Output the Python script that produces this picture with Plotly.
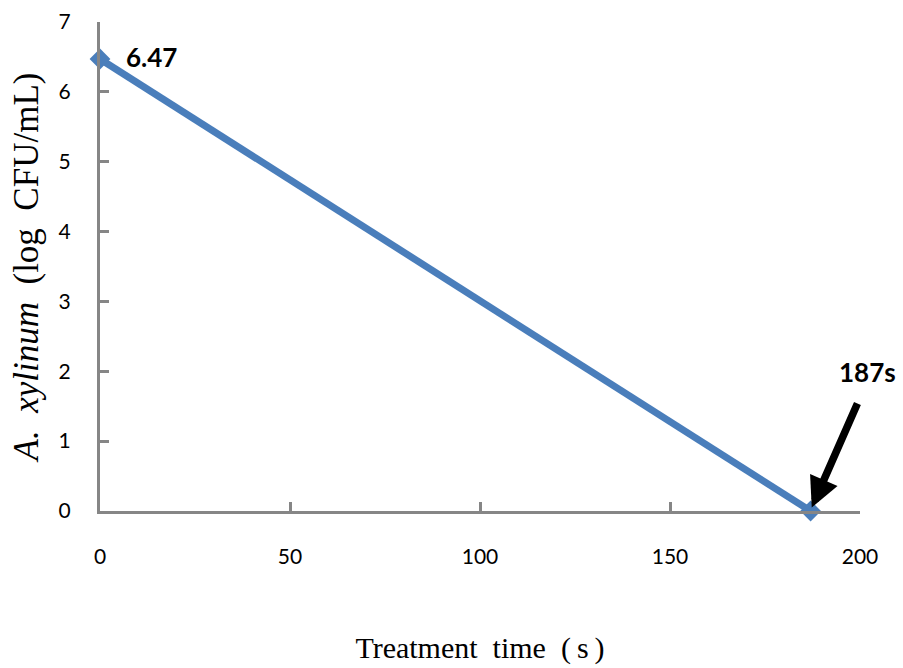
import plotly.graph_objects as go

# Survival curve of A. xylinum under treatment
time_s = [0, 187]
log_cfu = [6.47, 0]
x_ticks = [0, 50, 100, 150, 200]
y_ticks = [0, 1, 2, 3, 4, 5, 6, 7]

axis_grey = "#868686"
line_blue = "#4a7ebb"

fig = go.Figure()
fig.add_trace(go.Scatter(
    x=time_s, y=log_cfu, mode="lines+markers",
    line=dict(color=line_blue, width=7),
    marker=dict(symbol="diamond", size=16, color=line_blue),
    cliponaxis=False, showlegend=False,
))

# value labels
fig.add_annotation(x=time_s[0], y=log_cfu[0], text="<b>%.2f</b>" % log_cfu[0],
                   showarrow=False, xanchor="left", xshift=24, yshift=2,
                   font=dict(family="Lato", size=26, color="black"))
fig.add_annotation(x=time_s[1], y=log_cfu[1], text="<b>%ds</b>" % time_s[1],
                   showarrow=False, xshift=57, yshift=139,
                   font=dict(family="Lato", size=26, color="black"))
# arrow pointing to the end point
fig.add_annotation(x=time_s[1] + 0.3, y=log_cfu[1] + 0.05, ax=199.5, ay=1.56,
                   axref="x", ayref="y", xref="x", yref="y",
                   text="", showarrow=True, arrowhead=2, arrowsize=0.8,
                   arrowwidth=7.5, arrowcolor="black")

fig.update_layout(
    width=903, height=668,
    margin=dict(l=100, r=43, t=22, b=157),
    paper_bgcolor="white", plot_bgcolor="white",
    font=dict(family="Lato", size=21, color="black"),
)
fig.update_xaxes(
    range=[0, 200], tickvals=x_ticks, showgrid=False, zeroline=False,
    showline=True, linecolor=axis_grey, linewidth=3, automargin=False,
    ticks="inside", ticklen=9, tickwidth=3, tickcolor=axis_grey,
    ticklabelstandoff=25,
    title=dict(text="Treatment\u2002time\u2002(\u2009s\u2009)", standoff=70,
               font=dict(family="Liberation Serif", size=30)),
)
fig.update_yaxes(
    range=[0, 7], tickvals=y_ticks, showgrid=False, zeroline=False,
    showline=True, linecolor=axis_grey, linewidth=3, automargin=False,
    ticks="inside", ticklen=9, tickwidth=3, tickcolor=axis_grey,
    ticklabelstandoff=22,
    title=dict(text="<i>A.\u2002xylinum</i>\u2002(log\u2002CFU/mL)", standoff=10,
               font=dict(family="Liberation Serif", size=35)),
)

fig.write_html("out.html")
